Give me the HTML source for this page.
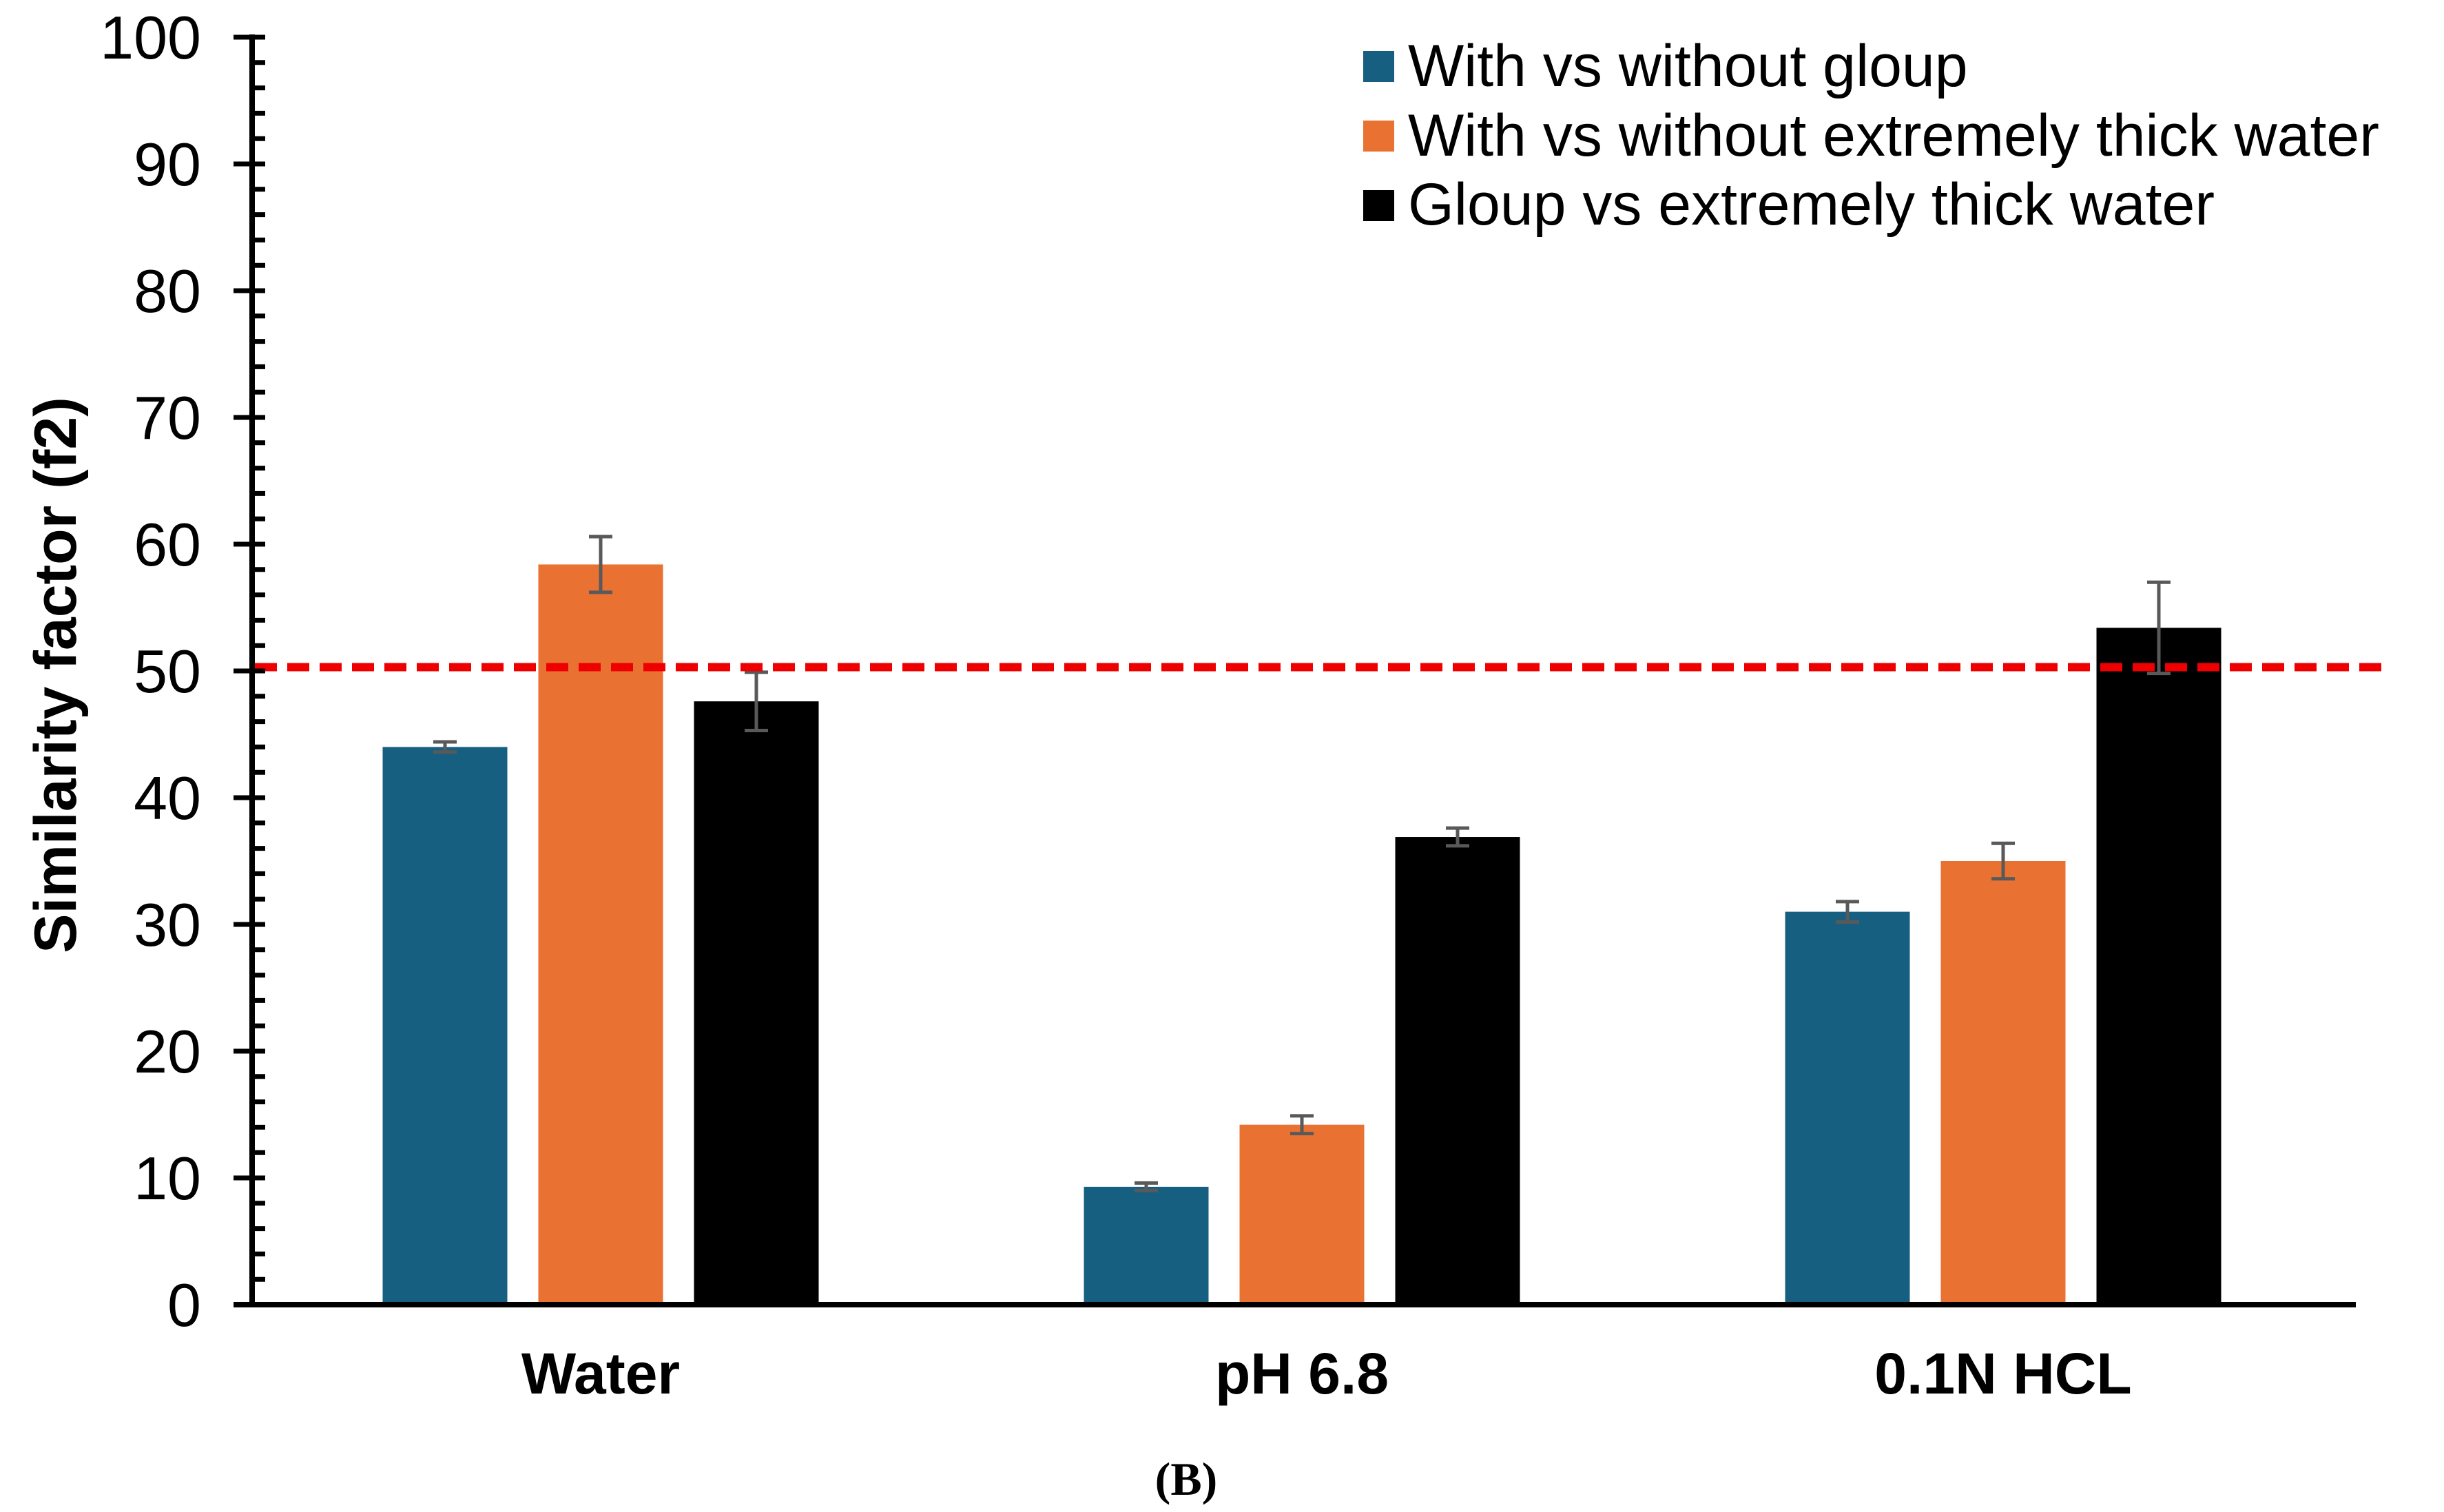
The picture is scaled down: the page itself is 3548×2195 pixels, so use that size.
<!DOCTYPE html>
<html><head><meta charset="utf-8"><style>
html,body{margin:0;padding:0;background:#fff;}
svg{display:block;font-family:"Liberation Sans",Arial,sans-serif;}
</style></head><body>
<svg id="chart" width="3548" height="2195" viewBox="0 0 3548 2195" xmlns="http://www.w3.org/2000/svg">
<text transform="translate(110,980) rotate(-90)" text-anchor="middle" font-size="86" font-weight="bold">Similarity factor (f2)</text>
<g id="legend">
<g><rect x="1979" y="74" width="45" height="45" fill="#175f81"/><text x="2044" y="125" font-size="86">With vs without gloup</text></g>
<g><rect x="1979" y="175" width="45" height="45" fill="#e97233"/><text x="2044" y="226" font-size="86">With vs without extremely thick water</text></g>
<g><rect x="1979" y="276" width="45" height="45" fill="#000"/><text x="2044" y="326" font-size="86">Gloup vs extremely thick water</text></g>
</g>
<text x="1722" y="2170" text-anchor="middle" font-family="Liberation Serif,serif" font-weight="bold" font-size="68">(B)</text>
</svg>
<script>
const categories = ["Water", "pH 6.8", "0.1N HCL"];
const seriesGloup = [44.0, 9.3, 31.0];
const seriesThick = [58.4, 14.2, 35.0];
const seriesGloupThick = [47.6, 36.9, 53.4];
const errGloup = [0.4, 0.3, 0.8];
const errThick = [2.2, 0.7, 1.4];
const errGloupThick = [2.3, 0.7, 3.6];
const yTicks = [0, 10, 20, 30, 40, 50, 60, 70, 80, 90, 100];
const threshold = 50.3;

const NS = "http://www.w3.org/2000/svg";
const svg = document.getElementById("chart");
const X0 = 366, X1 = 3420, Y0 = 1894, Y100 = 54;
const yScale = v => Y0 - (v / 100) * (Y0 - Y100);
const catW = (X1 - X0) / categories.length;
const xCenter = i => X0 + catW * (i + 0.5) - 3;
const barW = 181, step = 226;
function mk(tag, attrs) { const e = document.createElementNS(NS, tag); for (const k in attrs) e.setAttribute(k, attrs[k]); svg.appendChild(e); return e; }

const series = [
  { vals: seriesGloup, err: errGloup, color: "#175f81", name: "gloup" },
  { vals: seriesThick, err: errThick, color: "#e97233", name: "thick-water" },
  { vals: seriesGloupThick, err: errGloupThick, color: "#000000", name: "gloup-vs-thick" }
];
series.forEach((s, si) => {
  s.vals.forEach((v, i) => {
    const cx = xCenter(i) + (si - 1) * step;
    const r = mk("rect", { x: cx - barW / 2, y: yScale(v), width: barW, height: Y0 - yScale(v), fill: s.color });
    
    
  });
});
series.forEach((s, si) => {
  s.vals.forEach((v, i) => {
    const cx = xCenter(i) + (si - 1) * step;
    const e = s.err[i];
    const g = mk("path", { d: `M${cx},${yScale(v + e)}V${yScale(v - e)}M${cx - 17},${yScale(v + e)}h34M${cx - 17},${yScale(v - e)}h34`, stroke: "#595959", "stroke-width": 5, fill: "none" });
    
    
  });
});
const ref = mk("line", { x1: X0 + 4, x2: 3470, y1: yScale(threshold), y2: yScale(threshold), stroke: "#ee0000", "stroke-width": 12, "stroke-dasharray": "32 15" });



const yAxis = mk("line", { x1: X0, x2: X0, y1: Y100 - 4, y2: Y0 + 4, stroke: "#000", "stroke-width": 8 });


const xAxis = mk("line", { x1: 339, x2: X1, y1: Y0, y2: Y0, stroke: "#000", "stroke-width": 8 });


for (let v = 2; v < 100; v += 2) {
  if (v % 10 === 0) continue;
  const m = mk("line", { x1: X0, x2: 385, y1: yScale(v), y2: yScale(v), stroke: "#000", "stroke-width": 7 });
  
  
}
yTicks.forEach(t => {
  const l = mk("line", { x1: 339, x2: 385, y1: yScale(t), y2: yScale(t), stroke: "#000", "stroke-width": 7 });
  
  
  const tx = mk("text", { x: 292, y: yScale(t) + 31, "text-anchor": "end", "font-size": 88 });
  tx.textContent = t;
  
  
});
categories.forEach((c, i) => {
  const tx = mk("text", { x: xCenter(i), y: 2023, "text-anchor": "middle", "font-size": 84, "font-weight": "bold" });
  tx.textContent = c;
  
  
});
</script>
</body></html>
